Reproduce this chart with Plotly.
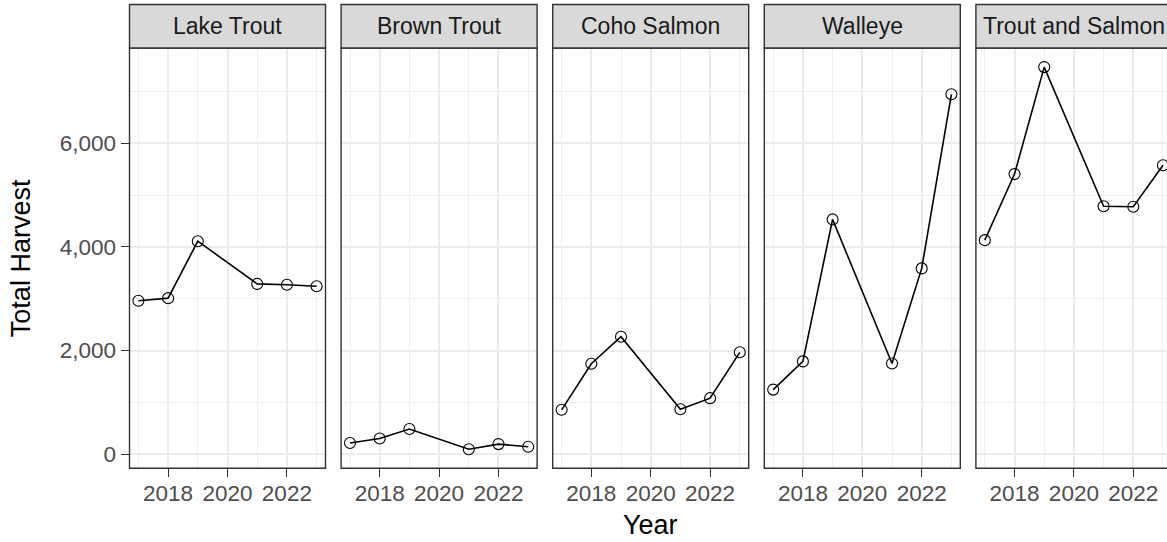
import plotly.graph_objects as go

# Annual harvest by species group
years = [2017, 2018, 2019, 2021, 2022, 2023]
species = ["Lake Trout", "Brown Trout", "Coho Salmon", "Walleye", "Trout and Salmon"]
lake_trout = [2960, 3010, 4110, 3285, 3270, 3240]
brown_trout = [215, 300, 485, 95, 193, 141]
coho_salmon = [855, 1745, 2265, 865, 1080, 1965]
walleye = [1245, 1790, 4530, 1750, 3585, 6945]
trout_and_salmon = [4130, 5405, 7470, 4785, 4775, 5575]
series = [lake_trout, brown_trout, coho_salmon, walleye, trout_and_salmon]

y_ticks = [0, 2000, 4000, 6000]
x_ticks = [2018, 2020, 2022]

W, H = 1167, 542
FONT = "Liberation Sans"

# panel geometry in pixels
left0, step, pw = 129.5, 211.6, 196.0
p_top, p_bot = 48.0, 468.3
s_top = 4.5

# shared y range with 5% padding on each side
all_vals = [v for s in series for v in s]
lo, hi = min(all_vals), max(all_vals)
pad = 0.05 * (hi - lo)
y_range = [lo - pad, hi + pad]

xpad = 0.05 * (max(years) - min(years))
x_range = [min(years) - xpad, max(years) + xpad]

fig = go.Figure()
shapes = []
annotations = []

for i, (name, vals) in enumerate(zip(species, series)):
    x0 = left0 + i * step
    x1 = x0 + pw
    xr = list(x_range)
    dom_x1 = x1 / W
    if x1 > W:
        # last panel runs past the page edge
        dom_x1 = 1.0
        xr[1] = x_range[0] + (x_range[1] - x_range[0]) * (W - x0) / pw
    ax = "" if i == 0 else str(i + 1)
    fig.add_trace(go.Scatter(
        x=years, y=vals, mode="lines+markers",
        line=dict(color="black", width=1.6),
        marker=dict(symbol="circle-open", size=11, color="black", line=dict(width=1.1)),
        cliponaxis=False, showlegend=False,
        xaxis="x" + ax, yaxis="y" + ax,
    ))
    fig.update_layout(**{
        "xaxis" + ax: dict(
            domain=[x0 / W, dom_x1], range=xr, anchor="y" + ax,
            tickvals=x_ticks, ticks="outside", ticklen=8, tickwidth=1.4,
            tickcolor="#333333", showline=False, zeroline=False,
            showgrid=True, gridcolor="#EBEBEB", gridwidth=1.7,
            minor=dict(tickvals=[2017, 2019, 2021, 2023], showgrid=True,
                       gridcolor="#EFEFEF", gridwidth=0.9, ticks=""),
            ticklabelstandoff=-3,
            tickfont=dict(family=FONT, size=22.5, color="#4D4D4D"),
        ),
        "yaxis" + ax: dict(
            domain=[1 - p_bot / H, 1 - p_top / H], range=y_range, anchor="x" + ax,
            tickvals=y_ticks, tickformat=",", showticklabels=(i == 0),
            ticks="outside" if i == 0 else "", ticklen=8, tickwidth=1.4,
            tickcolor="#333333", showline=False, zeroline=False,
            showgrid=True, gridcolor="#EBEBEB", gridwidth=1.7,
            minor=dict(tickvals=[1000, 3000, 5000, 7000], showgrid=True,
                       gridcolor="#EFEFEF", gridwidth=0.9, ticks=""),
            tickfont=dict(family=FONT, size=22.5, color="#4D4D4D"),
        ),
    })
    # panel border
    shapes.append(dict(type="rect", xref="paper", yref="paper",
                       x0=x0 / W, x1=x1 / W, y0=1 - p_bot / H, y1=1 - p_top / H,
                       line=dict(color="#333333", width=1.4), fillcolor="rgba(0,0,0,0)",
                       layer="above"))
    # strip
    shapes.append(dict(type="rect", xref="paper", yref="paper",
                       x0=x0 / W, x1=x1 / W, y0=1 - p_top / H, y1=1 - s_top / H,
                       line=dict(color="#333333", width=1.4), fillcolor="#D9D9D9",
                       layer="above"))
    annotations.append(dict(text=name, xref="paper", yref="paper",
                            x=(x0 + x1) / 2 / W, y=1 - (s_top + p_top) / 2 / H,
                            xanchor="center", yanchor="middle", showarrow=False,
                            font=dict(family=FONT, size=23, color="#1A1A1A")))

annotations.append(dict(text="Total Harvest", xref="paper", yref="paper",
                        x=21 / W, y=1 - (p_top + p_bot) / 2 / H, textangle=-90,
                        xanchor="center", yanchor="middle", showarrow=False,
                        font=dict(family=FONT, size=27, color="black")))
annotations.append(dict(text="Year", xref="paper", yref="paper",
                        x=(left0 + left0 + 4 * step + pw) / 2 / W, y=1 - 525 / H,
                        xanchor="center", yanchor="middle", showarrow=False,
                        font=dict(family=FONT, size=27, color="black")))

fig.update_layout(
    width=W, height=H,
    margin=dict(l=0, r=0, t=0, b=0),
    paper_bgcolor="white", plot_bgcolor="white",
    shapes=shapes, annotations=annotations,
)

fig.write_html("out.html")
